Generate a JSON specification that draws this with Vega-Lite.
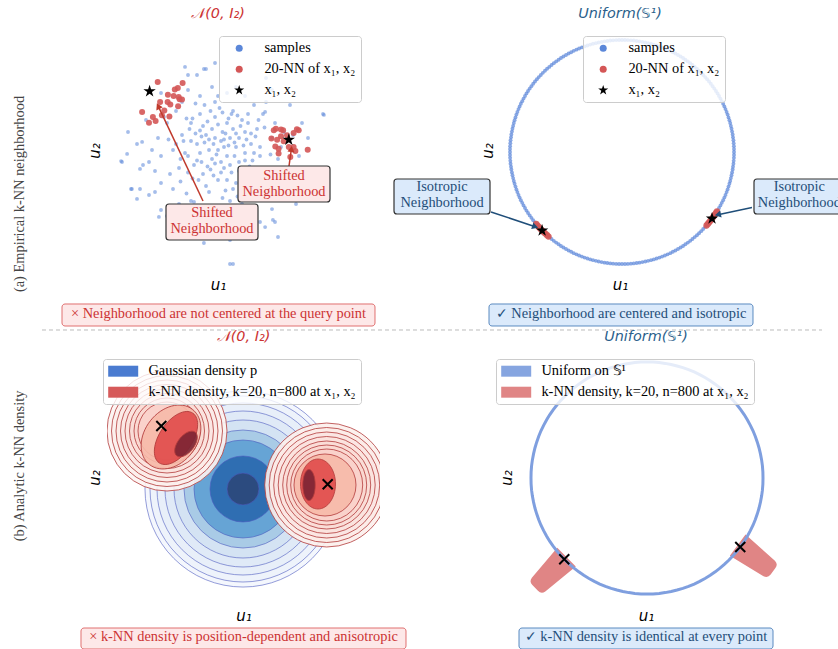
{
"$schema": "https://vega.github.io/schema/vega-lite/v6.json",
"padding": {"left": 11, "top": 5, "right": 0, "bottom": 0},
"bounds": "full",
"spacing": -3,
"config": {
  "view": {"stroke": null},
  "axis": {"domain": false, "ticks": false, "labels": false, "grid": false, "titleFont": "DejaVu Sans", "titleFontStyle": "italic", "titleFontWeight": "normal", "titleFontSize": 15, "titleColor": "#000"},
  "title": {"font": "DejaVu Sans", "fontStyle": "italic", "fontWeight": "normal", "fontSize": 14.4, "offset": 7},
  "legend": {"fillColor": "rgba(255,255,255,0.8)", "strokeColor": "#cccccc", "cornerRadius": 3, "padding": 5, "labelFont": "Liberation Serif", "labelFontSize": 14.4, "labelColor": "#000", "labelLimit": 400, "symbolOpacity": 1, "symbolStrokeWidth": 0, "rowPadding": 6, "labelOffset": 18, "symbolOffset": 8, "symbolSize": 49},
  "text": {"font": "Liberation Serif", "fontSize": 14.4}
},
"resolve": {"scale": {"color": "independent", "shape": "independent", "size": "independent", "fill": "independent"}},
"datasets": {
  "pal_samples": [
{"u":0.1,"v":0.3},{"u":-0.4,"v":0.5},{"u":0.6,"v":0.1},{"u":-0.2,"v":-0.3},{"u":0.3,"v":0.9},{"u":-0.7,"v":0.2},{"u":0.9,"v":0.6},{"u":0.2,"v":-0.6},{"u":-0.5,"v":-0.8},{"u":0.7,"v":-0.4},
{"u":-0.1,"v":1.1},{"u":0.5,"v":1.3},{"u":-0.9,"v":0.9},{"u":1.1,"v":0.2},{"u":-1.0,"v":-0.2},{"u":0.0,"v":-1.0},{"u":0.4,"v":0.4},{"u":-0.3,"v":0.0},{"u":0.8,"v":1.0},{"u":-0.6,"v":1.2},
{"u":1.2,"v":-0.7},{"u":-1.2,"v":0.5},{"u":0.2,"v":0.1},{"u":-0.8,"v":-0.5},{"u":0.6,"v":-1.1},{"u":-0.4,"v":-1.2},{"u":1.0,"v":1.2},{"u":-0.2,"v":0.7},{"u":0.3,"v":-0.2},{"u":0.9,"v":-0.1},
{"u":-0.6,"v":-0.1},{"u":0.1,"v":-0.4},{"u":-0.1,"v":0.4},{"u":0.5,"v":0.7},{"u":-0.9,"v":0.3},{"u":1.3,"v":0.7},{"u":-1.3,"v":-0.6},{"u":0.7,"v":0.4},{"u":-0.5,"v":0.8},{"u":0.0,"v":0.0},
{"u":0.15,"v":0.6},{"u":-0.35,"v":-0.55},{"u":0.45,"v":-0.75},{"u":-0.75,"v":0.55},{"u":0.85,"v":-0.85},{"u":-1.05,"v":1.05},{"u":1.15,"v":-0.35},{"u":-0.15,"v":-0.85},{"u":0.35,"v":1.05},{"u":-0.65,"v":-1.0},
{"u":1.4,"v":0.1},{"u":-1.4,"v":0.2},{"u":0.05,"v":1.4},{"u":0.25,"v":-1.35},{"u":-0.25,"v":1.3},{"u":0.95,"v":0.35},{"u":-0.85,"v":-0.95},{"u":0.55,"v":-0.2},{"u":-0.45,"v":0.25},{"u":0.75,"v":0.8},
{"u":-1.1,"v":-0.1},{"u":1.05,"v":-0.55},{"u":-0.05,"v":-0.15},{"u":0.4,"v":-0.5},{"u":-0.55,"v":0.45},{"u":0.65,"v":1.15},{"u":-0.95,"v":0.7},{"u":1.25,"v":0.45},{"u":-0.3,"v":-1.4},{"u":0.2,"v":0.35},
{"u":0.25,"v":0.55},{"u":-0.15,"v":0.2},{"u":0.55,"v":0.25},{"u":-0.35,"v":0.95},{"u":0.85,"v":0.15},{"u":-0.7,"v":-0.35},{"u":0.1,"v":-0.75},{"u":0.45,"v":1.2},{"u":-0.55,"v":-0.4},{"u":1.0,"v":0.9},
{"u":-1.15,"v":0.3},{"u":0.3,"v":-1.0},{"u":0.7,"v":-0.7},{"u":-0.85,"v":1.05},{"u":0.0,"v":0.85},{"u":-0.25,"v":-0.65},{"u":1.2,"v":-0.1},{"u":-0.45,"v":1.5},{"u":0.6,"v":0.55},{"u":-1.0,"v":-0.75},
{"u":0.35,"v":0.15},{"u":-0.1,"v":-0.45},{"u":0.9,"v":-0.35},{"u":-0.6,"v":0.65},{"u":0.15,"v":1.25},{"u":1.1,"v":0.55},{"u":-1.25,"v":-0.3},{"u":0.5,"v":-1.3},{"u":-0.3,"v":0.35},{"u":0.75,"v":-1.05},
{"u":1.8,"v":0.4},{"u":-1.7,"v":0.9},{"u":1.6,"v":-1.0},{"u":-1.5,"v":-1.3},{"u":0.3,"v":1.9},{"u":-0.6,"v":1.8},{"u":1.2,"v":1.5},{"u":-1.9,"v":-0.2},{"u":0.8,"v":-1.8},{"u":-0.9,"v":-1.7},
{"u":2.0,"v":-0.3},{"u":-2.0,"v":0.4},{"u":1.5,"v":1.2},{"u":-1.2,"v":1.6},{"u":0.1,"v":-2.0},{"u":1.9,"v":0.9},{"u":-1.6,"v":-0.8},{"u":0.6,"v":2.1},{"u":-0.3,"v":-1.9},{"u":1.3,"v":-1.5},
{"u":-2.1,"v":-0.7},{"u":2.1,"v":0.1},{"u":-1.0,"v":2.0},{"u":1.7,"v":-0.6},{"u":-1.4,"v":1.3},{"u":0.9,"v":1.8},{"u":-1.8,"v":1.1},{"u":1.1,"v":-1.9},{"u":-0.5,"v":-2.1},{"u":2.2,"v":0.6},
{"u":-2.2,"v":0.0},{"u":1.6,"v":1.6},{"u":-1.3,"v":-1.8},{"u":0.4,"v":-1.7},{"u":-0.2,"v":2.1},{"u":1.9,"v":-1.2},{"u":-1.9,"v":-1.1},{"u":0.0,"v":1.8},{"u":1.4,"v":-0.2},{"u":-1.5,"v":0.0},
{"u":1.55,"v":0.75},{"u":-1.65,"v":0.35},{"u":1.75,"v":-0.15},{"u":-1.05,"v":-1.45},{"u":0.65,"v":-1.55},{"u":-0.75,"v":1.55},{"u":1.35,"v":1.0},{"u":-1.25,"v":-1.05},{"u":0.15,"v":-1.6},{"u":-0.1,"v":1.6},
{"u":2.5,"v":0.5},{"u":-2.4,"v":1.0},{"u":2.3,"v":-1.3},{"u":-2.3,"v":-1.5},{"u":0.7,"v":2.6},{"u":-1.0,"v":2.5},{"u":1.4,"v":-2.4},{"u":-0.8,"v":-2.6},{"u":2.7,"v":-0.2},{"u":-2.7,"v":0.2},
{"u":1.8,"v":2.0},{"u":-1.9,"v":1.9},{"u":0.2,"v":-2.6},{"u":2.4,"v":1.5},{"u":-2.5,"v":-0.5},{"u":1.0,"v":-2.8},{"u":-1.5,"v":-2.4},{"u":2.8,"v":0.9},{"u":-3.2,"v":-0.4},{"u":3.5,"v":1.2},
{"u":-2.6,"v":-1.3},{"u":1.6,"v":2.4},{"u":-0.4,"v":2.7},{"u":0.4,"v":-3.0},{"u":-1.9,"v":-2.0},{"u":2.6,"v":-1.8},{"u":-2.1,"v":-1.4},{"u":0.5,"v":-3.8},{"u":1.9,"v":-2.4},{"u":-1.7,"v":-2.2},
{"u":-0.1,"v":2.9},{"u":-2.9,"v":-1.3},{"u":3.0,"v":0.4},{"u":-3.0,"v":0.6},{"u":2.0,"v":-2.9},
{"u":-3.23,"v":-0.37},{"u":-3.03,"v":-0.13},{"u":-2.87,"v":-1.3},{"u":-2.7,"v":-1.63},{"u":-2.6,"v":-0.63},{"u":-2.53,"v":0.27},{"u":-2.3,"v":-0.4},{"u":-1.97,"v":-2.23},{"u":-1.1,"v":2.77},{"u":-0.7,"v":2.5},
{"u":-0.47,"v":2.7},{"u":-0.8,"v":-1.73},{"u":-0.93,"v":-2.3},{"u":-0.47,"v":-3.1},{"u":0.4,"v":-3.8},{"u":1.57,"v":-2.57},{"u":1.83,"v":-2.33},{"u":3.53,"v":1.17},{"u":1.57,"v":1.27},{"u":1.8,"v":-1.97}
  ],
  "pal_nn": [
{"u":-2.01,"v":2.27},{"u":-1.18,"v":2.23},{"u":-1.44,"v":2.02},{"u":-1.34,"v":2.07},{"u":-1.67,"v":1.84},{"u":-1.48,"v":1.8},{"u":-1.28,"v":1.69},{"u":-1.2,"v":1.68},{"u":-1.68,"v":1.6},{"u":-1.59,"v":1.52},
{"u":-1.33,"v":1.46},{"u":-2.53,"v":1.27},{"u":-2.17,"v":1.1},{"u":-2.3,"v":0.91},{"u":-2.08,"v":0.97},{"u":-1.87,"v":1.16},{"u":-1.79,"v":1.32},{"u":-1.62,"v":1.12},{"u":-1.31,"v":1.77},{"u":-1.93,"v":1.6},
{"u":1.93,"v":0.71},{"u":2.1,"v":0.68},{"u":2.63,"v":0.69},{"u":2.52,"v":0.57},{"u":1.78,"v":0.38},{"u":1.97,"v":0.34},{"u":2.1,"v":0.46},{"u":2.19,"v":0.29},{"u":1.91,"v":0.12},{"u":2.02,"v":0.04},
{"u":2.02,"v":-0.12},{"u":2.41,"v":-0.23},{"u":2.58,"v":-0.03},{"u":2.99,"v":0.01},{"u":2.36,"v":0.1},{"u":2.52,"v":0.1},{"u":2.69,"v":0.66},{"u":2.17,"v":0.66},{"u":2.3,"v":0.49},{"u":1.86,"v":0.66}
  ],
  "pal_stars": [{"u":-2.28,"v":1.96},{"u":2.36,"v":0.34}],
  "pal_arrows": [{"u":-0.5,"v":-1.7,"u2":-1.993,"v2":1.463,"ang":-25.4},{"u":2.3667,"v":-0.5333,"u2":2.4467,"v2":0.0333,"ang":8.1}],
  "pal_boxes": [{"u":-1.7333,"u2":1.3333,"v":-1.8,"v2":-3.0},{"u":0.6667,"u2":3.7333,"v":-0.5333,"v2":-1.7333}],
  "pal_box_text": [{"u":-0.2,"v":-2.1,"label":"Shifted\nNeighborhood"},{"u":2.2,"v":-0.8667,"label":"Shifted\nNeighborhood"}],
  "pal_note": [{"u":-5.2,"u2":5.2333,"v":-5.1333,"v2":-5.8667,"label":"× Neighborhood are not centered at the query point","tu":0.0167,"tv":-5.4667}],
  "separator": [{"u":-5.8667,"u2":20.1333,"v":-6.0}],
  "row_a": [{"u":-6.6,"v":-1.4667,"label":"(a) Empirical k-NN neighborhood"}],
  "circle": [
{"a":0,"u":1.0,"v":0.0},{"a":3,"u":0.999,"v":0.052},{"a":6,"u":0.995,"v":0.105},{"a":9,"u":0.988,"v":0.156},{"a":12,"u":0.978,"v":0.208},{"a":15,"u":0.966,"v":0.259},{"a":18,"u":0.951,"v":0.309},{"a":21,"u":0.934,"v":0.358},{"a":24,"u":0.914,"v":0.407},{"a":27,"u":0.891,"v":0.454},
{"a":30,"u":0.866,"v":0.5},{"a":33,"u":0.839,"v":0.545},{"a":36,"u":0.809,"v":0.588},{"a":39,"u":0.777,"v":0.629},{"a":42,"u":0.743,"v":0.669},{"a":45,"u":0.707,"v":0.707},{"a":48,"u":0.669,"v":0.743},{"a":51,"u":0.629,"v":0.777},{"a":54,"u":0.588,"v":0.809},{"a":57,"u":0.545,"v":0.839},
{"a":60,"u":0.5,"v":0.866},{"a":63,"u":0.454,"v":0.891},{"a":66,"u":0.407,"v":0.914},{"a":69,"u":0.358,"v":0.934},{"a":72,"u":0.309,"v":0.951},{"a":75,"u":0.259,"v":0.966},{"a":78,"u":0.208,"v":0.978},{"a":81,"u":0.156,"v":0.988},{"a":84,"u":0.105,"v":0.995},{"a":87,"u":0.052,"v":0.999},
{"a":90,"u":0.0,"v":1.0},{"a":93,"u":-0.052,"v":0.999},{"a":96,"u":-0.105,"v":0.995},{"a":99,"u":-0.156,"v":0.988},{"a":102,"u":-0.208,"v":0.978},{"a":105,"u":-0.259,"v":0.966},{"a":108,"u":-0.309,"v":0.951},{"a":111,"u":-0.358,"v":0.934},{"a":114,"u":-0.407,"v":0.914},{"a":117,"u":-0.454,"v":0.891},
{"a":120,"u":-0.5,"v":0.866},{"a":123,"u":-0.545,"v":0.839},{"a":126,"u":-0.588,"v":0.809},{"a":129,"u":-0.629,"v":0.777},{"a":132,"u":-0.669,"v":0.743},{"a":135,"u":-0.707,"v":0.707},{"a":138,"u":-0.743,"v":0.669},{"a":141,"u":-0.777,"v":0.629},{"a":144,"u":-0.809,"v":0.588},{"a":147,"u":-0.839,"v":0.545},
{"a":150,"u":-0.866,"v":0.5},{"a":153,"u":-0.891,"v":0.454},{"a":156,"u":-0.914,"v":0.407},{"a":159,"u":-0.934,"v":0.358},{"a":162,"u":-0.951,"v":0.309},{"a":165,"u":-0.966,"v":0.259},{"a":168,"u":-0.978,"v":0.208},{"a":171,"u":-0.988,"v":0.156},{"a":174,"u":-0.995,"v":0.105},{"a":177,"u":-0.999,"v":0.052},
{"a":180,"u":-1.0,"v":0.0},{"a":183,"u":-0.999,"v":-0.052},{"a":186,"u":-0.995,"v":-0.105},{"a":189,"u":-0.988,"v":-0.156},{"a":192,"u":-0.978,"v":-0.208},{"a":195,"u":-0.966,"v":-0.259},{"a":198,"u":-0.951,"v":-0.309},{"a":201,"u":-0.934,"v":-0.358},{"a":204,"u":-0.914,"v":-0.407},{"a":207,"u":-0.891,"v":-0.454},
{"a":210,"u":-0.866,"v":-0.5},{"a":213,"u":-0.839,"v":-0.545},{"a":216,"u":-0.809,"v":-0.588},{"a":219,"u":-0.777,"v":-0.629},{"a":222,"u":-0.743,"v":-0.669},{"a":225,"u":-0.707,"v":-0.707},{"a":228,"u":-0.669,"v":-0.743},{"a":231,"u":-0.629,"v":-0.777},{"a":234,"u":-0.588,"v":-0.809},{"a":237,"u":-0.545,"v":-0.839},
{"a":240,"u":-0.5,"v":-0.866},{"a":243,"u":-0.454,"v":-0.891},{"a":246,"u":-0.407,"v":-0.914},{"a":249,"u":-0.358,"v":-0.934},{"a":252,"u":-0.309,"v":-0.951},{"a":255,"u":-0.259,"v":-0.966},{"a":258,"u":-0.208,"v":-0.978},{"a":261,"u":-0.156,"v":-0.988},{"a":264,"u":-0.105,"v":-0.995},{"a":267,"u":-0.052,"v":-0.999},
{"a":270,"u":0.0,"v":-1.0},{"a":273,"u":0.052,"v":-0.999},{"a":276,"u":0.105,"v":-0.995},{"a":279,"u":0.156,"v":-0.988},{"a":282,"u":0.208,"v":-0.978},{"a":285,"u":0.259,"v":-0.966},{"a":288,"u":0.309,"v":-0.951},{"a":291,"u":0.358,"v":-0.934},{"a":294,"u":0.407,"v":-0.914},{"a":297,"u":0.454,"v":-0.891},
{"a":300,"u":0.5,"v":-0.866},{"a":303,"u":0.545,"v":-0.839},{"a":306,"u":0.588,"v":-0.809},{"a":309,"u":0.629,"v":-0.777},{"a":312,"u":0.669,"v":-0.743},{"a":315,"u":0.707,"v":-0.707},{"a":318,"u":0.743,"v":-0.669},{"a":321,"u":0.777,"v":-0.629},{"a":324,"u":0.809,"v":-0.588},{"a":327,"u":0.839,"v":-0.545},
{"a":330,"u":0.866,"v":-0.5},{"a":333,"u":0.891,"v":-0.454},{"a":336,"u":0.914,"v":-0.407},{"a":339,"u":0.934,"v":-0.358},{"a":342,"u":0.951,"v":-0.309},{"a":345,"u":0.966,"v":-0.259},{"a":348,"u":0.978,"v":-0.208},{"a":351,"u":0.988,"v":-0.156},{"a":354,"u":0.995,"v":-0.105},{"a":357,"u":0.999,"v":-0.052}
  ],
  "circle_mid": [
{"u":1.0,"v":0.026},{"u":0.997,"v":0.079},{"u":0.991,"v":0.131},{"u":0.983,"v":0.182},{"u":0.972,"v":0.233},{"u":0.959,"v":0.284},{"u":0.943,"v":0.334},{"u":0.924,"v":0.383},{"u":0.903,"v":0.431},{"u":0.879,"v":0.477},
{"u":0.853,"v":0.523},{"u":0.824,"v":0.566},{"u":0.793,"v":0.609},{"u":0.76,"v":0.649},{"u":0.725,"v":0.688},{"u":0.688,"v":0.725},{"u":0.649,"v":0.76},{"u":0.609,"v":0.793},{"u":0.566,"v":0.824},{"u":0.523,"v":0.853},
{"u":0.477,"v":0.879},{"u":0.431,"v":0.903},{"u":0.383,"v":0.924},{"u":0.334,"v":0.943},{"u":0.284,"v":0.959},{"u":0.233,"v":0.972},{"u":0.182,"v":0.983},{"u":0.131,"v":0.991},{"u":0.079,"v":0.997},{"u":0.026,"v":1.0},
{"u":-0.026,"v":1.0},{"u":-0.079,"v":0.997},{"u":-0.131,"v":0.991},{"u":-0.182,"v":0.983},{"u":-0.233,"v":0.972},{"u":-0.284,"v":0.959},{"u":-0.334,"v":0.943},{"u":-0.383,"v":0.924},{"u":-0.431,"v":0.903},{"u":-0.477,"v":0.879},
{"u":-0.523,"v":0.853},{"u":-0.566,"v":0.824},{"u":-0.609,"v":0.793},{"u":-0.649,"v":0.76},{"u":-0.688,"v":0.725},{"u":-0.725,"v":0.688},{"u":-0.76,"v":0.649},{"u":-0.793,"v":0.609},{"u":-0.824,"v":0.566},{"u":-0.853,"v":0.523},
{"u":-0.879,"v":0.477},{"u":-0.903,"v":0.431},{"u":-0.924,"v":0.383},{"u":-0.943,"v":0.334},{"u":-0.959,"v":0.284},{"u":-0.972,"v":0.233},{"u":-0.983,"v":0.182},{"u":-0.991,"v":0.131},{"u":-0.997,"v":0.079},{"u":-1.0,"v":0.026},
{"u":-1.0,"v":-0.026},{"u":-0.997,"v":-0.079},{"u":-0.991,"v":-0.131},{"u":-0.983,"v":-0.182},{"u":-0.972,"v":-0.233},{"u":-0.959,"v":-0.284},{"u":-0.943,"v":-0.334},{"u":-0.924,"v":-0.383},{"u":-0.903,"v":-0.431},{"u":-0.879,"v":-0.477},
{"u":-0.853,"v":-0.523},{"u":-0.824,"v":-0.566},{"u":-0.793,"v":-0.609},{"u":-0.76,"v":-0.649},{"u":-0.725,"v":-0.688},{"u":-0.688,"v":-0.725},{"u":-0.649,"v":-0.76},{"u":-0.609,"v":-0.793},{"u":-0.566,"v":-0.824},{"u":-0.523,"v":-0.853},
{"u":-0.477,"v":-0.879},{"u":-0.431,"v":-0.903},{"u":-0.383,"v":-0.924},{"u":-0.334,"v":-0.943},{"u":-0.284,"v":-0.959},{"u":-0.233,"v":-0.972},{"u":-0.182,"v":-0.983},{"u":-0.131,"v":-0.991},{"u":-0.079,"v":-0.997},{"u":-0.026,"v":-1.0},
{"u":0.026,"v":-1.0},{"u":0.079,"v":-0.997},{"u":0.131,"v":-0.991},{"u":0.182,"v":-0.983},{"u":0.233,"v":-0.972},{"u":0.284,"v":-0.959},{"u":0.334,"v":-0.943},{"u":0.383,"v":-0.924},{"u":0.431,"v":-0.903},{"u":0.477,"v":-0.879},
{"u":0.523,"v":-0.853},{"u":0.566,"v":-0.824},{"u":0.609,"v":-0.793},{"u":0.649,"v":-0.76},{"u":0.688,"v":-0.725},{"u":0.725,"v":-0.688},{"u":0.76,"v":-0.649},{"u":0.793,"v":-0.609},{"u":0.824,"v":-0.566},{"u":0.853,"v":-0.523},
{"u":0.879,"v":-0.477},{"u":0.903,"v":-0.431},{"u":0.924,"v":-0.383},{"u":0.943,"v":-0.334},{"u":0.959,"v":-0.284},{"u":0.972,"v":-0.233},{"u":0.983,"v":-0.182},{"u":0.991,"v":-0.131},{"u":0.997,"v":-0.079},{"u":1.0,"v":-0.026}
  ],
  "par_nn": [
{"u":-0.766,"v":-0.643},{"u":-0.755,"v":-0.656},{"u":-0.743,"v":-0.669},{"u":-0.731,"v":-0.682},{"u":-0.719,"v":-0.695},{"u":-0.707,"v":-0.707},{"u":-0.695,"v":-0.719},{"u":-0.682,"v":-0.731},{"u":-0.669,"v":-0.743},{"u":-0.656,"v":-0.755},
{"u":0.755,"v":-0.656},{"u":0.766,"v":-0.643},{"u":0.777,"v":-0.629},{"u":0.788,"v":-0.616},{"u":0.799,"v":-0.602},{"u":0.809,"v":-0.588},{"u":0.819,"v":-0.574},{"u":0.829,"v":-0.559},{"u":0.839,"v":-0.545},{"u":0.848,"v":-0.53}
  ],
  "query": [{"u":-0.7133,"v":-0.7009,"bearing":225.5,"series":"k-NN density, k=20, n=800 at x₁, x₂"},{"u":0.8039,"v":-0.5948,"bearing":126.5,"series":"k-NN density, k=20, n=800 at x₁, x₂"}],
  "par_arrows": [{"u":-1.1696,"v":-0.5357,"u2":-0.775,"v2":-0.667,"ang":108.4},{"u":1.1607,"v":-0.4955,"u2":0.8563,"v2":-0.5598,"ang":-101.9}],
  "par_boxes": [{"u":-2.0357,"u2":-1.1786,"v":-0.2411,"v2":-0.5536},{"u":1.1786,"u2":1.9643,"v":-0.2411,"v2":-0.5536}],
  "par_box_text": [{"u":-1.6071,"v":-0.3125,"label":"Isotropic\nNeighborhood"},{"u":1.5833,"v":-0.3125,"label":"Isotropic\nNeighborhood"}],
  "par_note": [{"u":-1.1875,"u2":1.1696,"v":-1.3571,"v2":-1.5536,"label":"✓ Neighborhood are centered and isotropic","tu":-0.0089,"tv":-1.4464}],
  "pbl_blue": [
{"u":0,"v":0,"r":3.2667,"lvl":"b1"},{"u":0,"v":0,"r":3.1,"lvl":"b2"},{"u":0,"v":0,"r":2.8667,"lvl":"b3"},{"u":0,"v":0,"r":2.6,"lvl":"b4"},{"u":0,"v":0,"r":2.3,"lvl":"b5"},
{"u":0,"v":0,"r":1.9667,"lvl":"b6"},{"u":0,"v":0,"r":1.6333,"lvl":"b7"},{"u":0,"v":0,"r":1.1,"lvl":"b8"},{"u":0,"v":0,"r":0.5333,"lvl":"b9"}
  ],
  "pbl_red": [
{"u":-2.5333,"v":1.9333,"r":2.0,"lvl":"k1","form":"circle","tilt":0},{"u":-2.5333,"v":1.9333,"r":1.85,"lvl":"k2","form":"circle","tilt":0},{"u":-2.5333,"v":1.9333,"r":1.7,"lvl":"k3","form":"circle","tilt":0},{"u":-2.5333,"v":1.9333,"r":1.55,"lvl":"k4","form":"circle","tilt":0},
{"u":-2.5333,"v":1.9333,"r":1.4,"lvl":"k5","form":"circle","tilt":0},{"u":-2.5333,"v":1.9333,"r":1.25,"lvl":"k6","form":"circle","tilt":0},{"u":-2.5333,"v":1.9333,"r":1.1,"lvl":"k7","form":"circle","tilt":0},{"u":-2.5333,"v":1.9333,"r":0.9667,"lvl":"k8","form":"circle","tilt":0},
{"u":-2.4,"v":1.7333,"r":1.1667,"lvl":"ks","form":"e75","tilt":128},{"u":-2.2333,"v":1.7,"r":1.0,"lvl":"kr","form":"e55","tilt":124},{"u":-1.9,"v":1.5,"r":0.5,"lvl":"kd","form":"e55","tilt":128},
{"u":2.79,"v":0.1333,"r":2.0667,"lvl":"k2","form":"circle","tilt":0},{"u":2.79,"v":0.1333,"r":1.9167,"lvl":"k3","form":"circle","tilt":0},{"u":2.79,"v":0.1333,"r":1.7667,"lvl":"k4","form":"circle","tilt":0},{"u":2.79,"v":0.1333,"r":1.6167,"lvl":"k5","form":"circle","tilt":0},
{"u":2.79,"v":0.1333,"r":1.4667,"lvl":"k6","form":"circle","tilt":0},{"u":2.79,"v":0.1333,"r":1.3333,"lvl":"k7","form":"circle","tilt":0},{"u":2.79,"v":0.1333,"r":1.2,"lvl":"k8","form":"circle","tilt":0},
{"u":2.7333,"v":0.1333,"r":1.0333,"lvl":"ks","form":"circle","tilt":0},{"u":2.5,"v":0.1667,"r":0.8333,"lvl":"kr","form":"e70","tilt":90},{"u":2.2,"v":0.1333,"r":0.5167,"lvl":"kd","form":"e40","tilt":90}
  ],
  "pbl_query": [{"u":-2.7233,"v":2.1},{"u":2.8233,"v":0.1567}],
  "pbl_note": [{"u":-5.4,"u2":5.4333,"v":-4.6333,"v2":-5.3333,"label":"× k-NN density is position-dependent and anisotropic","tu":0.0167,"tv":-4.9333}],
  "row_b": [{"u":-7.4333,"v":0.7667,"label":"(b) Analytic k-NN density"}],
  "pbr_note": [{"u":-1.1034,"u2":1.0862,"v":-1.2931,"v2":-1.4741,"label":"✓ k-NN density is identical at every point","tu":-0.0086,"tv":-1.3707}]
},
"vconcat": [
{
  "bounds": "flush",
  "spacing": 171,
  "resolve": {"scale": {"color": "independent", "shape": "independent", "size": "independent", "fill": "independent"}},
  "hconcat": [
  {
    "width": 222, "height": 245,
    "title": {"text": "𝒩(0, I₂)", "color": "#cc3333"},
    "encoding": {
      "x": {"field": "u", "type": "quantitative", "scale": {"domain": [-3.7, 3.7], "nice": false, "zero": false}, "axis": {"title": "u₁", "titlePadding": 4}},
      "y": {"field": "v", "type": "quantitative", "scale": {"domain": [-4.1, 4.0667], "nice": false, "zero": false}, "axis": {"title": "u₂", "titlePadding": 5}}
    },
    "layer": [
      {"data": {"name": "pal_samples"}, "mark": {"type": "point", "filled": true, "size": 15, "opacity": 0.55},
       "encoding": {
         "color": {"datum": "samples", "type": "nominal", "scale": {"domain": ["samples", "20-NN of x₁, x₂", "x₁, x₂"], "range": ["#5b87d9", "#d45656", "#000000"]}, "legend": {"orient": "none", "legendX": 112, "legendY": 8, "title": null}},
         "shape": {"datum": "samples", "type": "nominal", "scale": {"domain": ["samples", "20-NN of x₁, x₂", "x₁, x₂"], "range": ["circle", "circle", "M0,-1.5L0.34,-0.46L1.43,-0.46L0.54,0.18L0.88,1.21L0,0.57L-0.88,1.21L-0.54,0.18L-1.43,-0.46L-0.34,-0.46Z"]}, "legend": {"orient": "none", "legendX": 112, "legendY": 8, "title": null}}
       }},
      {"data": {"name": "pal_nn"}, "mark": {"type": "point", "filled": true, "size": 36, "opacity": 0.9},
       "encoding": {"color": {"datum": "20-NN of x₁, x₂", "type": "nominal"}, "shape": {"datum": "20-NN of x₁, x₂", "type": "nominal"}}},
      {"data": {"name": "pal_arrows"}, "mark": {"type": "rule", "color": "#c0392b", "strokeWidth": 1.5},
       "encoding": {"x2": {"field": "u2"}, "y2": {"field": "v2"}}},
      {"data": {"name": "pal_arrows"}, "mark": {"type": "point", "filled": true, "shape": "triangle-up", "size": 50, "color": "#c0392b", "opacity": 1},
       "encoding": {"x": {"field": "u2", "type": "quantitative"}, "y": {"field": "v2", "type": "quantitative"}, "angle": {"field": "ang", "type": "quantitative", "scale": null}}},
      {"data": {"name": "pal_stars"}, "mark": {"type": "point", "filled": true, "size": 75, "opacity": 1},
       "encoding": {"color": {"datum": "x₁, x₂", "type": "nominal"}, "shape": {"datum": "x₁, x₂", "type": "nominal"}}},
      {"data": {"name": "pal_boxes"}, "mark": {"type": "rect", "fill": "#fde8e8", "stroke": "#333333", "strokeWidth": 1.2, "cornerRadius": 3},
       "encoding": {"x2": {"field": "u2"}, "y2": {"field": "v2"}}},
      {"data": {"name": "pal_box_text"}, "mark": {"type": "text", "color": "#cc3333", "lineBreak": "\n", "lineHeight": 16, "align": "center", "baseline": "middle"},
       "encoding": {"text": {"field": "label"}}},
      {"data": {"name": "pal_note"}, "mark": {"type": "rect", "fill": "#fde8e8", "stroke": "#e07070", "strokeWidth": 1, "cornerRadius": 3},
       "encoding": {"x2": {"field": "u2"}, "y2": {"field": "v2"}}},
      {"data": {"name": "pal_note"}, "mark": {"type": "text", "color": "#cc3333", "align": "center", "baseline": "middle"},
       "encoding": {"x": {"field": "tu", "type": "quantitative"}, "y": {"field": "tv", "type": "quantitative"}, "text": {"field": "label"}}},
      {"data": {"name": "separator"}, "mark": {"type": "rule", "color": "#bbbbbb", "strokeWidth": 1, "strokeDash": [4, 3]},
       "encoding": {"x2": {"field": "u2"}}},
      {"data": {"name": "row_a"}, "mark": {"type": "text", "color": "#444444", "angle": 270, "align": "center", "baseline": "middle"},
       "encoding": {"text": {"field": "label"}}}
    ]
  },
  {
    "width": 240, "height": 245,
    "title": {"text": "Uniform(𝕊¹)", "color": "#2b5f8c"},
    "encoding": {
      "x": {"field": "u", "type": "quantitative", "scale": {"domain": [-1.0893, 1.0536], "nice": false, "zero": false}, "axis": {"title": "u₁", "titlePadding": 4}},
      "y": {"field": "v", "type": "quantitative", "scale": {"domain": [-1.0804, 1.1071], "nice": false, "zero": false}, "axis": {"title": "u₂", "titlePadding": 5}}
    },
    "layer": [
      {"data": {"name": "circle"}, "mark": {"type": "point", "filled": true, "size": 15, "opacity": 0.72},
       "encoding": {
         "color": {"datum": "samples", "type": "nominal", "scale": {"domain": ["samples", "20-NN of x₁, x₂", "x₁, x₂"], "range": ["#5b87d9", "#d45656", "#000000"]}, "legend": {"orient": "none", "legendX": 83, "legendY": 8, "title": null}},
         "shape": {"datum": "samples", "type": "nominal", "scale": {"domain": ["samples", "20-NN of x₁, x₂", "x₁, x₂"], "range": ["circle", "circle", "M0,-1.5L0.34,-0.46L1.43,-0.46L0.54,0.18L0.88,1.21L0,0.57L-0.88,1.21L-0.54,0.18L-1.43,-0.46L-0.34,-0.46Z"]}, "legend": {"orient": "none", "legendX": 83, "legendY": 8, "title": null}}
       }},
      {"data": {"name": "circle_mid"}, "mark": {"type": "point", "filled": true, "size": 15, "opacity": 0.72},
       "encoding": {"color": {"datum": "samples", "type": "nominal"}, "shape": {"datum": "samples", "type": "nominal"}}},
      {"data": {"name": "par_nn"}, "mark": {"type": "point", "filled": true, "size": 40, "opacity": 0.9},
       "encoding": {"color": {"datum": "20-NN of x₁, x₂", "type": "nominal"}, "shape": {"datum": "20-NN of x₁, x₂", "type": "nominal"}}},
      {"data": {"name": "query"}, "mark": {"type": "point", "filled": true, "size": 75, "opacity": 1},
       "encoding": {"color": {"datum": "x₁, x₂", "type": "nominal"}, "shape": {"datum": "x₁, x₂", "type": "nominal"}}},
      {"data": {"name": "par_arrows"}, "mark": {"type": "rule", "color": "#1f4e79", "strokeWidth": 1.5},
       "encoding": {"x2": {"field": "u2"}, "y2": {"field": "v2"}}},
      {"data": {"name": "par_arrows"}, "mark": {"type": "point", "filled": true, "shape": "triangle-up", "size": 50, "color": "#1f4e79", "opacity": 1},
       "encoding": {"x": {"field": "u2", "type": "quantitative"}, "y": {"field": "v2", "type": "quantitative"}, "angle": {"field": "ang", "type": "quantitative", "scale": null}}},
      {"data": {"name": "par_boxes"}, "mark": {"type": "rect", "fill": "#dbeafb", "stroke": "#333333", "strokeWidth": 1.2, "cornerRadius": 3},
       "encoding": {"x2": {"field": "u2"}, "y2": {"field": "v2"}}},
      {"data": {"name": "par_box_text"}, "mark": {"type": "text", "color": "#1f4e79", "lineBreak": "\n", "lineHeight": 16, "align": "center", "baseline": "middle"},
       "encoding": {"text": {"field": "label"}}},
      {"data": {"name": "par_note"}, "mark": {"type": "rect", "fill": "#dbeafb", "stroke": "#5b8ac0", "strokeWidth": 1, "cornerRadius": 3},
       "encoding": {"x2": {"field": "u2"}, "y2": {"field": "v2"}}},
      {"data": {"name": "par_note"}, "mark": {"type": "text", "color": "#1f4e79", "align": "center", "baseline": "middle"},
       "encoding": {"x": {"field": "tu", "type": "quantitative"}, "y": {"field": "tv", "type": "quantitative"}, "text": {"field": "label"}}}
    ]
  }
  ]
},
{
  "bounds": "flush",
  "spacing": 139,
  "resolve": {"scale": {"color": "independent", "shape": "independent", "size": "independent", "fill": "independent"}},
  "hconcat": [
  {
    "width": 273, "height": 253,
    "title": {"text": "𝒩(0, I₂)", "color": "#cc3333"},
    "encoding": {
      "x": {"field": "u", "type": "quantitative", "scale": {"domain": [-4.5333, 4.5667], "nice": false, "zero": false}, "axis": {"title": "u₁", "titlePadding": 4}},
      "y": {"field": "v", "type": "quantitative", "scale": {"domain": [-3.8333, 4.6], "nice": false, "zero": false}, "axis": {"title": "u₂", "titlePadding": 5}}
    },
    "layer": [
      {"data": {"name": "pbl_blue"}, "mark": {"type": "point", "filled": true, "shape": "circle", "opacity": 1, "stroke": "#4d5abf", "strokeWidth": 0.8, "strokeOpacity": 0.75, "clip": true},
       "encoding": {
         "size": {"field": "r", "type": "quantitative", "scale": {"type": "pow", "exponent": 2, "domain": [0, 5], "range": [0, 90000]}, "legend": null},
         "fill": {"field": "lvl", "type": "nominal",
           "scale": {"domain": ["b1","b2","b3","b4","b5","b6","b7","b8","b9","k1","k2","k3","k4","k5","k6","k7","k8","ks","kr","kd","Gaussian density p","k-NN density, k=20, n=800 at x₁, x₂"],
                     "range": ["#f4f7fd","#eef3fb","#e8eff9","#e0eaf7","#d4e3f3","#a9cbe6","#66a4d5","#2f6eb2","#2c4b7f","#fdf4f2","#fcefec","#fcebe7","#fbe6e2","#fbe2dd","#fadcd6","#fad7d0","#f9d2ca","#f6b9a8","#e04a4a","#7b2433","#4a7bd0","#d65a5a"]},
           "legend": {"orient": "none", "legendX": -4, "legendY": 8, "title": null, "values": ["Gaussian density p", "k-NN density, k=20, n=800 at x₁, x₂"], "symbolType": "M-5,-1.83H5V1.83H-5Z", "symbolSize": 36}}
       }},
      {"data": {"name": "pbl_red"}, "mark": {"type": "point", "filled": true, "opacity": 1, "fillOpacity": 0.9, "stroke": "#b23b3b", "strokeWidth": 0.8, "clip": true},
       "encoding": {
         "size": {"field": "r", "type": "quantitative", "scale": {"type": "pow", "exponent": 2, "domain": [0, 5], "range": [0, 90000]}, "legend": null},
         "shape": {"field": "form", "type": "nominal", "scale": {"domain": ["circle", "e75", "e55", "e70", "e40"], "range": ["circle", "M-1,0A1,0.75,0,1,1,1,0A1,0.75,0,1,1,-1,0Z", "M-1,0A1,0.55,0,1,1,1,0A1,0.55,0,1,1,-1,0Z", "M-1,0A1,0.7,0,1,1,1,0A1,0.7,0,1,1,-1,0Z", "M-1,0A1,0.4,0,1,1,1,0A1,0.4,0,1,1,-1,0Z"]}, "legend": null},
         "angle": {"field": "tilt", "type": "quantitative", "scale": null},
         "fill": {"field": "lvl", "type": "nominal"}
       }},
      {"data": {"name": "pbl_query"}, "mark": {"type": "point", "filled": false, "shape": "M-1,-1L1,1M-1,1L1,-1", "size": 100, "color": "#000000", "strokeWidth": 2, "opacity": 1}},
      {"data": {"name": "pbl_note"}, "mark": {"type": "rect", "fill": "#fde8e8", "stroke": "#e07070", "strokeWidth": 1, "cornerRadius": 3},
       "encoding": {"x2": {"field": "u2"}, "y2": {"field": "v2"}}},
      {"data": {"name": "pbl_note"}, "mark": {"type": "text", "color": "#cc3333", "align": "center", "baseline": "middle"},
       "encoding": {"x": {"field": "tu", "type": "quantitative"}, "y": {"field": "tv", "type": "quantitative"}, "text": {"field": "label"}}},
      {"data": {"name": "row_b"}, "mark": {"type": "text", "color": "#444444", "angle": 270, "align": "center", "baseline": "middle"},
       "encoding": {"text": {"field": "label"}}}
    ]
  },
  {
    "width": 254, "height": 253,
    "title": {"text": "Uniform(𝕊¹)", "color": "#2b5f8c"},
    "encoding": {
      "x": {"field": "u", "type": "quantitative", "scale": {"domain": [-1.1034, 1.0862], "nice": false, "zero": false}, "axis": {"title": "u₁", "titlePadding": 4}},
      "y": {"field": "v", "type": "quantitative", "scale": {"domain": [-1.0862, 1.0948], "nice": false, "zero": false}, "axis": {"title": "u₂", "titlePadding": 5}}
    },
    "layer": [
      {"data": {"name": "query"}, "mark": {"type": "point", "filled": true, "shape": "M-0.33,0.08L0.33,0.08L0.24,-0.9Q0.22,-1.02,0.1,-1.02L-0.1,-1.02Q-0.22,-1.02,-0.24,-0.9Z", "size": 6400, "opacity": 1},
       "encoding": {
         "angle": {"field": "bearing", "type": "quantitative", "scale": null},
         "fill": {"field": "series", "type": "nominal", "scale": {"domain": ["Uniform on 𝕊¹", "k-NN density, k=20, n=800 at x₁, x₂"], "range": ["#86a5e0", "#e08585"]},
           "legend": {"orient": "none", "legendX": -23, "legendY": 8, "title": null, "symbolType": "M-5,-1.83H5V1.83H-5Z", "symbolSize": 36}}
       }},
      {"data": {"name": "circle"}, "mark": {"type": "line", "interpolate": "linear-closed", "strokeWidth": 3, "color": "#7f9fdf"},
       "encoding": {"order": {"field": "a", "type": "quantitative"}}},
      {"data": {"name": "query"}, "mark": {"type": "point", "filled": false, "shape": "M-1,-1L1,1M-1,1L1,-1", "size": 100, "color": "#000000", "strokeWidth": 2, "opacity": 1}},
      {"data": {"name": "pbr_note"}, "mark": {"type": "rect", "fill": "#dbeafb", "stroke": "#5b8ac0", "strokeWidth": 1, "cornerRadius": 3},
       "encoding": {"x2": {"field": "u2"}, "y2": {"field": "v2"}}},
      {"data": {"name": "pbr_note"}, "mark": {"type": "text", "color": "#1f4e79", "align": "center", "baseline": "middle"},
       "encoding": {"x": {"field": "tu", "type": "quantitative"}, "y": {"field": "tv", "type": "quantitative"}, "text": {"field": "label"}}}
    ]
  }
  ]
}
]
}
